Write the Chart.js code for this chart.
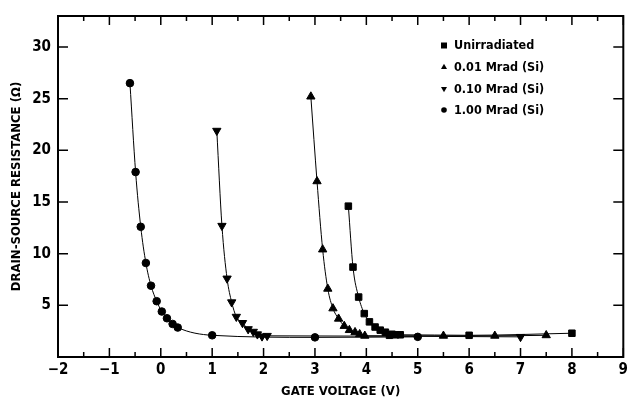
<!DOCTYPE html>
<html>
<head>
<meta charset="utf-8">
<script src="https://cdn.jsdelivr.net/npm/chart.js@4"></script>
<style>
  html, body { margin: 0; padding: 0; background: #fff; }
</style>
</head>
<body>
<canvas id="chart" width="632" height="398"></canvas>
<script>
const seriesNames = ['Unirradiated', '0.01 Mrad (Si)', '0.10 Mrad (Si)', '1.00 Mrad (Si)'];

// gate voltage (V) / drain-source resistance (ohm)
const unirrX = [3.65, 3.74, 3.85, 3.96, 4.06, 4.17, 4.27, 4.37, 4.45, 4.50, 4.57, 4.66, 6.0, 8.0];
const unirrY = [14.6, 8.7, 5.8, 4.2, 3.4, 2.9, 2.6, 2.4, 2.1, 2.2, 2.15, 2.15, 2.1, 2.3];

const mrad001X = [2.92, 3.04, 3.15, 3.25, 3.35, 3.46, 3.57, 3.67, 3.78, 3.87, 3.97, 5.5, 6.5, 7.5];
const mrad001Y = [25.2, 17.0, 10.4, 6.6, 4.7, 3.7, 3.0, 2.6, 2.4, 2.2, 2.05, 2.05, 2.05, 2.1];

const mrad010X = [1.09, 1.19, 1.29, 1.38, 1.47, 1.59, 1.70, 1.80, 1.88, 1.97, 2.07, 7.0];
const mrad010Y = [21.9, 12.7, 7.6, 5.3, 3.9, 3.3, 2.7, 2.45, 2.2, 2.0, 2.05, 1.95];

const mrad100X = [-0.60, -0.49, -0.39, -0.29, -0.19, -0.08, 0.02, 0.12, 0.23, 0.33, 1.0, 3.0, 5.0];
const mrad100Y = [26.5, 17.9, 12.6, 9.1, 6.9, 5.4, 4.4, 3.75, 3.2, 2.85, 2.1, 1.9, 1.95];

const xTicks = [-2, -1, 0, 1, 2, 3, 4, 5, 6, 7, 8, 9];
const yTicks = [5, 10, 15, 20, 25, 30];

const FONT = '"Liberation Sans Narrow", "DejaVu Sans Condensed", "Arial Narrow", sans-serif';

const pts = (xs, ys) => xs.map((x, i) => ({ x: x, y: ys[i] }));

function series(label, data, style, radius, rotation) {
  return {
    label: label,
    data: data,
    borderColor: '#000',
    borderWidth: 1,
    backgroundColor: '#000',
    pointStyle: style,
    pointRotation: rotation || 0,
    pointRadius: radius,
    pointBackgroundColor: '#000',
    pointBorderColor: '#000',
    pointBorderWidth: 1,
    cubicInterpolationMode: 'monotone',
    fill: false
  };
}

// box frame with inward ticks on all four sides
const frameTicks = {
  id: 'frameTicks',
  afterDatasetsDraw(chart) {
    const { ctx, chartArea: a, scales: { x, y } } = chart;
    ctx.save();
    ctx.strokeStyle = '#000';
    ctx.lineWidth = 2;
    ctx.strokeRect(a.left, a.top, a.right - a.left, a.bottom - a.top);
    ctx.lineWidth = 1.5;
    ctx.beginPath();
    for (let v = x.min; v <= x.max + 1e-9; v += 0.5) {
      const px = x.getPixelForValue(v);
      const len = Number.isInteger(v) ? 9 : 5;
      ctx.moveTo(px, a.bottom); ctx.lineTo(px, a.bottom - len);
      ctx.moveTo(px, a.top); ctx.lineTo(px, a.top + len);
    }
    yTicks.forEach(v => {
      const py = y.getPixelForValue(v);
      ctx.moveTo(a.left, py); ctx.lineTo(a.left + 10, py);
      ctx.moveTo(a.right, py); ctx.lineTo(a.right - 10, py);
    });
    ctx.stroke();
    ctx.restore();
  }
};

function marker(ctx, kind, x, y, r) {
  ctx.beginPath();
  if (kind === 'rect') {
    ctx.rect(x - r, y - r, 2 * r, 2 * r);
  } else if (kind === 'up') {
    ctx.moveTo(x, y - r * 1.1); ctx.lineTo(x + r, y + r * 0.7); ctx.lineTo(x - r, y + r * 0.7);
  } else if (kind === 'down') {
    ctx.moveTo(x, y + r * 1.1); ctx.lineTo(x + r, y - r * 0.7); ctx.lineTo(x - r, y - r * 0.7);
  } else {
    ctx.arc(x, y, r, 0, Math.PI * 2);
  }
  ctx.closePath();
  ctx.fill();
}

// legend inside the plot, top right
const legendInside = {
  id: 'legendInside',
  afterDraw(chart) {
    const { ctx } = chart;
    const kinds = ['rect', 'up', 'down', 'circle'];
    const rows = [45.5, 67, 89, 110];
    ctx.save();
    ctx.fillStyle = '#000';
    ctx.font = 'bold 12.5px ' + FONT;
    ctx.textBaseline = 'middle';
    chart.data.datasets.forEach((ds, i) => {
      marker(ctx, kinds[i], 444, rows[i], kinds[i] === 'circle' ? 2.8 : 3);
      ctx.fillText(ds.label, 454, rows[i] + 0.5);
    });
    ctx.restore();
  }
};

new Chart(document.getElementById('chart'), {
  type: 'line',
  data: {
    datasets: [
      series(seriesNames[0], pts(unirrX, unirrY), 'rect', 4.6),
      series(seriesNames[1], pts(mrad001X, mrad001Y), 'triangle', 4.8),
      series(seriesNames[2], pts(mrad010X, mrad010Y), 'triangle', 4.8, 180),
      series(seriesNames[3], pts(mrad100X, mrad100Y), 'circle', 3.8)
    ]
  },
  options: {
    responsive: false,
    animation: false,
    layout: { padding: { top: 16, right: 6, left: 0, bottom: 0 } },
    scales: {
      x: {
        type: 'linear',
        min: -2,
        max: 9,
        afterBuildTicks: s => { s.ticks = xTicks.map(v => ({ value: v })); },
        afterFit: s => { s.height = 41; },
        grid: { display: false, drawTicks: false },
        border: { display: false },
        ticks: {
          color: '#000',
          padding: 4,
          maxRotation: 0,
          autoSkip: false,
          font: { family: FONT, size: 15, weight: 'bold' },
          callback: v => (v < 0 ? '\u2212' + Math.abs(v) : String(v))
        },
        title: {
          display: true,
          text: 'GATE VOLTAGE (V)',
          color: '#000',
          font: { family: FONT, size: 13, weight: 'bold' },
          padding: { top: 0, bottom: -1 }
        }
      },
      y: {
        min: 0,
        max: 33,
        afterBuildTicks: s => { s.ticks = yTicks.map(v => ({ value: v })); },
        afterFit: s => { s.width = 58; },
        grid: { display: false, drawTicks: false },
        border: { display: false },
        ticks: {
          color: '#000',
          padding: 7,
          font: { family: FONT, size: 15, weight: 'bold' }
        },
        title: {
          display: true,
          text: 'DRAIN-SOURCE RESISTANCE (\u03A9)',
          color: '#000',
          font: { family: FONT, size: 13, weight: 'bold' },
          padding: { top: 9, bottom: 0 }
        }
      }
    },
    plugins: {
      legend: { display: false },
      tooltip: { enabled: false }
    }
  },
  plugins: [frameTicks, legendInside]
});
</script>
</body>
</html>
